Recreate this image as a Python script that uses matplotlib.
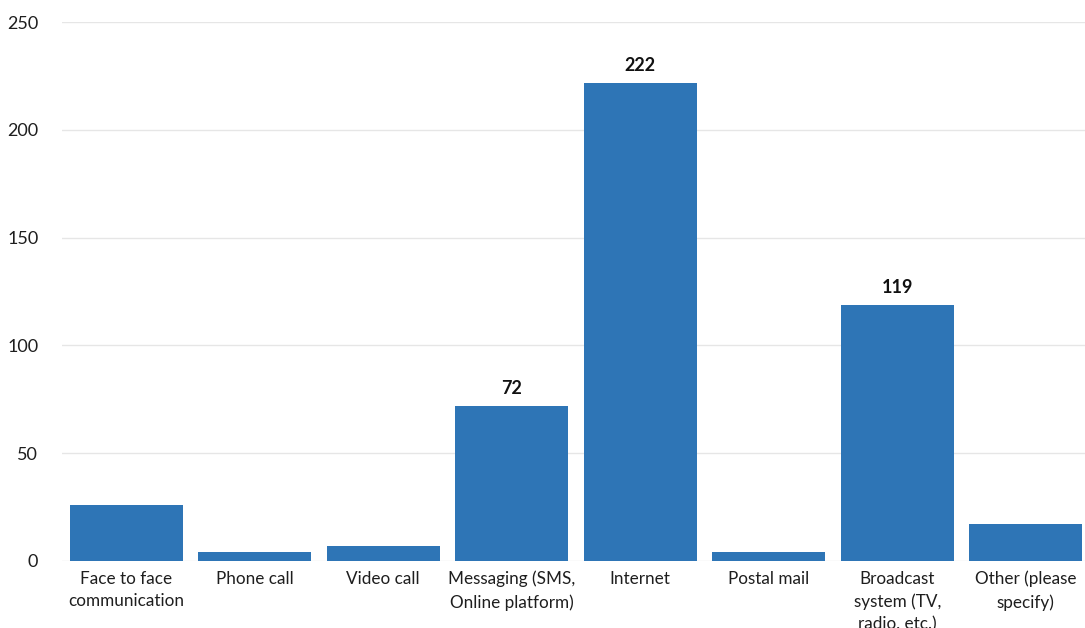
import matplotlib.pyplot as plt

plt.rcParams['font.family'] = ['Lato', 'DejaVu Sans']

categories = ['Face to face\ncommunication', 'Phone call', 'Video call',
              'Messaging (SMS,\nOnline platform)', 'Internet', 'Postal mail',
              'Broadcast\nsystem (TV,\nradio, etc.)', 'Other (please\nspecify)']
counts = [26, 4, 7, 72, 222, 4, 119, 17]
labelled = [3, 4, 6]  # bars that carry a value label

fig = plt.figure(figsize=(10.85, 6.28), dpi=100)
ax = fig.add_axes([0.0571, 0.1067, 0.9475, 0.858])

x = range(len(categories))
bars = ax.bar(x, counts, width=0.88, color='#2E75B6', zorder=2)
for i in labelled:
    ax.text(i, counts[i] + 4, str(counts[i]), ha='center', va='bottom',
            fontsize=13, fontweight='bold', color='#111111')

ax.set_xlim(-0.5, 7.5)
ax.set_ylim(0, 250)
ax.set_yticks(range(0, 251, 50))
ax.set_xticks(list(x))
ax.set_xticklabels(categories, fontsize=12.3, color='#1e1e1e', linespacing=1.5)
ax.tick_params(axis='y', labelsize=13, labelcolor='#1e1e1e', length=0, pad=17)
ax.tick_params(axis='x', length=0, pad=7)
ax.grid(axis='y', color='#e6e6e6', linewidth=1, zorder=0)
for s in ax.spines.values():
    s.set_visible(False)

fig.savefig('out.png', dpi=100)
